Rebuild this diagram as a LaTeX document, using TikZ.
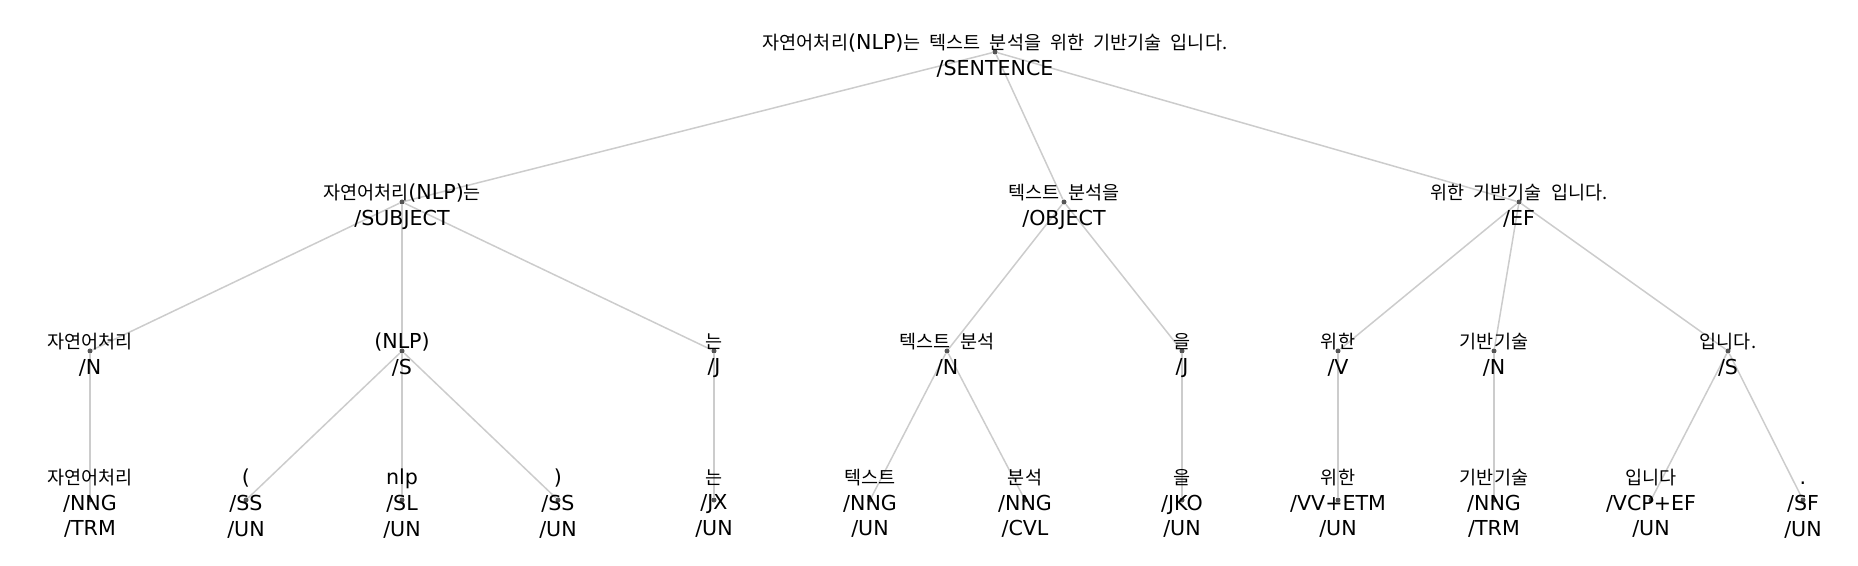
\documentclass[tikz,border=0pt]{standalone}
\usepackage{fontspec}
\setmainfont{DejaVu Sans}
\newfontfamily\korfont{Noto Sans CJK KR}[Scale=0.9, WordSpace=2.2]
\newcommand{\kor}[1]{{\korfont #1}}
\usetikzlibrary{backgrounds}

\definecolor{linkgray}{HTML}{CCCCCC}
\definecolor{knotgray}{HTML}{555555}

\tikzstyle{knot} = [circle, fill = knotgray, minimum size = 2.5pt, inner sep = 0pt]
\tikzstyle{word} = [align = center, inner sep = 0pt, yshift = -3.2pt, font = \fontsize{10.3}{12.85}\selectfont,
    execute at end node = \strut]
\tikzstyle{link} = [draw = linkgray, line width = 0.75pt]

\begin{document}
\begin{tikzpicture}[x = 0.5pt, y = -0.5pt]
        \useasboundingbox (0, 0) rectangle (1858, 566);

        % sentence
        \node at (995, 52) [knot, label = {[word]center:{\kor{자연어처리}(NLP)\kor{는 텍스트 분석을 위한 기반기술 입니다.}\\/SENTENCE}}] (S) {};

        % phrases
        \node at (402, 202) [knot, label = {[word]center:{\kor{자연어처리}(NLP)\kor{는}\\/SUBJECT}}] (SUBJ) {};
        \node at (1064, 202) [knot, label = {[word]center:{\kor{텍스트 분석을}\\/OBJECT}}] (OBJ) {};
        \node at (1519, 202) [knot, label = {[word]center:{\kor{위한 기반기술 입니다.}\\/EF}}] (EF) {};

        % words
        \node at (90, 351) [knot, label = {[word]center:{\kor{자연어처리}\\/N}}] (N1) {};
        \node at (402, 351) [knot, label = {[word]center:{(NLP)\\/S}}] (S1) {};
        \node at (714, 351) [knot, label = {[word]center:{\kor{는}\\/J}}] (J1) {};
        \node at (947, 351) [knot, label = {[word]center:{\kor{텍스트 분석}\\/N}}] (N2) {};
        \node at (1182, 351) [knot, label = {[word]center:{\kor{을}\\/J}}] (J2) {};
        \node at (1338, 351) [knot, label = {[word]center:{\kor{위한}\\/V}}] (V1) {};
        \node at (1494, 351) [knot, label = {[word]center:{\kor{기반기술}\\/N}}] (N3) {};
        \node at (1728, 351) [knot, label = {[word]center:{\kor{입니다.}\\/S}}] (S2) {};

        % morphemes
        \node at (90, 500) [knot, label = {[word]center:{\kor{자연어처리}\\/NNG\\/TRM}}] (M1) {};
        \node at (246, 500) [knot, label = {[word]center:{(\\/SS\\/UN}}] (M2) {};
        \node at (402, 500) [knot, label = {[word]center:{nlp\\/SL\\/UN}}] (M3) {};
        \node at (558, 500) [knot, label = {[word]center:{)\\/SS\\/UN}}] (M4) {};
        \node at (714, 500) [knot, label = {[word]center:{\kor{는}\\/JX\\/UN}}] (M5) {};
        \node at (870, 500) [knot, label = {[word]center:{\kor{텍스트}\\/NNG\\/UN}}] (M6) {};
        \node at (1025, 500) [knot, label = {[word]center:{\kor{분석}\\/NNG\\/CVL}}] (M7) {};
        \node at (1182, 500) [knot, label = {[word]center:{\kor{을}\\/JKO\\/UN}}] (M8) {};
        \node at (1338, 500) [knot, label = {[word]center:{\kor{위한}\\/VV+ETM\\/UN}}] (M9) {};
        \node at (1494, 500) [knot, label = {[word]center:{\kor{기반기술}\\/NNG\\/TRM}}] (M10) {};
        \node at (1651, 500) [knot, label = {[word]center:{\kor{입니다}\\/VCP+EF\\/UN}}] (M11) {};
        \node at (1803, 500) [knot, label = {[word]center:{\vphantom{(}.\\/SF\\/UN}}] (M12) {};

        \begin{scope}[on background layer]
            \path[link] (S) -- (SUBJ);
            \path[link] (S) -- (OBJ);
            \path[link] (S) -- (EF);

            \path[link] (SUBJ) -- (N1);
            \path[link] (SUBJ) -- (S1);
            \path[link] (SUBJ) -- (J1);
            \path[link] (OBJ) -- (N2);
            \path[link] (OBJ) -- (J2);
            \path[link] (EF) -- (V1);
            \path[link] (EF) -- (N3);
            \path[link] (EF) -- (S2);

            \path[link] (N1) -- (M1);
            \path[link] (S1) -- (M2);
            \path[link] (S1) -- (M3);
            \path[link] (S1) -- (M4);
            \path[link] (J1) -- (M5);
            \path[link] (N2) -- (M6);
            \path[link] (N2) -- (M7);
            \path[link] (J2) -- (M8);
            \path[link] (V1) -- (M9);
            \path[link] (N3) -- (M10);
            \path[link] (S2) -- (M11);
            \path[link] (S2) -- (M12);
        \end{scope}
    \end{tikzpicture}
\end{document}
